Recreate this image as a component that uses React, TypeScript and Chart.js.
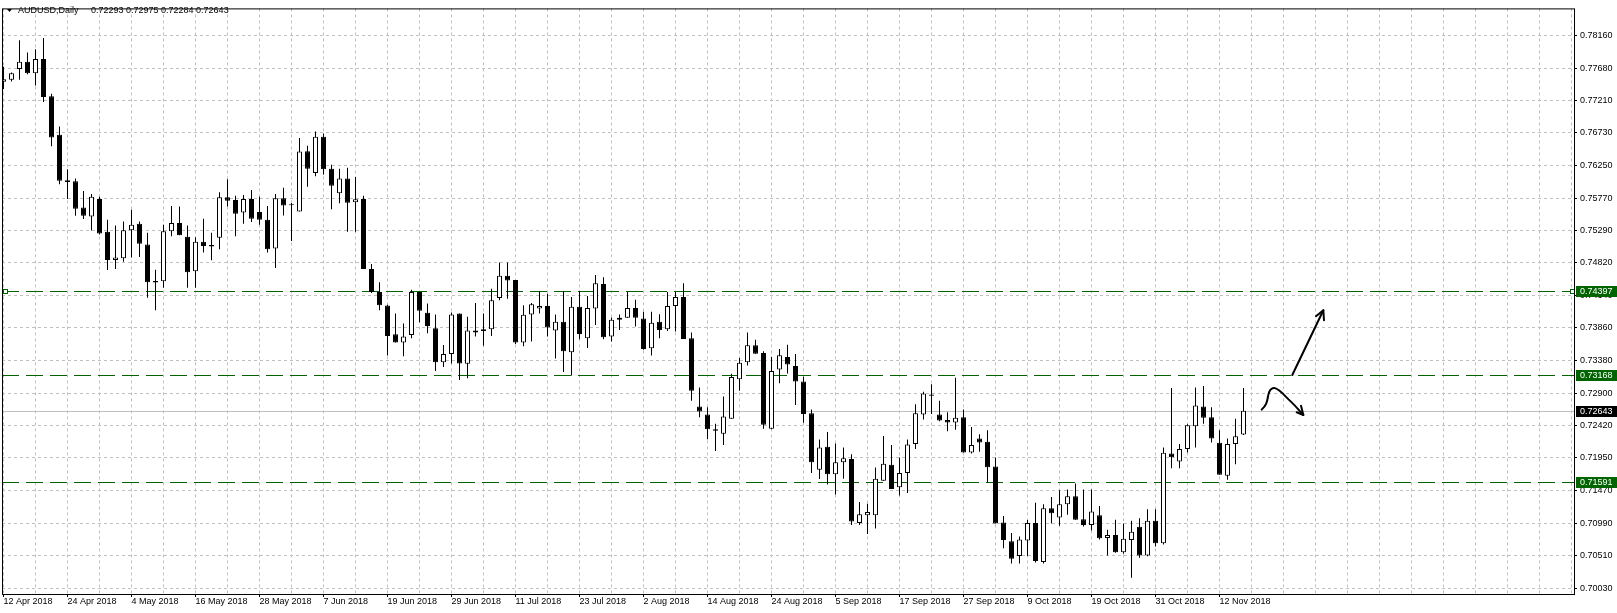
import React, { useEffect, useRef } from 'react';
import { Chart, registerables } from 'chart.js';

Chart.register(...registerables);

const SYMBOL = 'AUDUSD';
const TIMEFRAME = 'Daily';

// Daily candles, bar 0 = 12 Apr 2018 ... bar 155 = 15 Nov 2018
const OPEN = [
  0.77480, 0.77510, 0.77669, 0.77775, 0.77605, 0.77814, 0.77267, 0.76701, 0.76033, 0.76018,
  0.75631, 0.75500, 0.75757, 0.75273, 0.74861, 0.74886, 0.75297, 0.75394, 0.75089, 0.74552,
  0.74547, 0.75282, 0.75404, 0.75201, 0.74693, 0.75128, 0.75079, 0.75186, 0.75782, 0.75742,
  0.75558, 0.75757, 0.75564, 0.75452, 0.75027, 0.75767, 0.75670, 0.75573, 0.76458, 0.76139,
  0.76672, 0.76203, 0.75840, 0.76058, 0.75709, 0.75757, 0.74726, 0.74388, 0.74189, 0.73768,
  0.73647, 0.73758, 0.74388, 0.74083, 0.73855, 0.73357, 0.73477, 0.74073, 0.73332, 0.73821,
  0.73840, 0.73840, 0.74301, 0.74629, 0.74566, 0.73647, 0.74058, 0.74145, 0.74184, 0.73821,
  0.73952, 0.73502, 0.74170, 0.73710, 0.74145, 0.74508, 0.73734, 0.73981, 0.74010, 0.74155,
  0.74000, 0.73560, 0.73952, 0.73840, 0.74184, 0.74315, 0.73710, 0.72703, 0.72587, 0.72369,
  0.72305, 0.72523, 0.73104, 0.73357, 0.73604, 0.73492, 0.72378, 0.73249, 0.73434, 0.73299,
  0.73071, 0.72606, 0.71774, 0.72112, 0.71710, 0.71884, 0.71934, 0.70990, 0.71106, 0.71106,
  0.71614, 0.71847, 0.71517, 0.71725, 0.72152, 0.72587, 0.72882, 0.72587, 0.72505, 0.72471,
  0.72548, 0.72030, 0.72233, 0.72185, 0.71822, 0.70999, 0.70723, 0.70505, 0.70733, 0.70990,
  0.70418, 0.71208, 0.71071, 0.71266, 0.71386, 0.71048, 0.70961, 0.71106, 0.70772, 0.70816,
  0.70563, 0.70743, 0.70936, 0.70515, 0.71023, 0.70694, 0.72015, 0.71895, 0.72079, 0.72413,
  0.72703, 0.72548, 0.72170, 0.71687, 0.72152, 0.72293,
];
const HIGH = [
  0.77703, 0.77616, 0.78090, 0.77910, 0.77960, 0.78124, 0.77306, 0.76821, 0.76193, 0.76058,
  0.75873, 0.75830, 0.75790, 0.75452, 0.75365, 0.75427, 0.75597, 0.75427, 0.75259, 0.74716,
  0.75379, 0.75655, 0.75645, 0.75365, 0.75195, 0.75467, 0.75259, 0.75854, 0.76047, 0.75805,
  0.75815, 0.75888, 0.75790, 0.75655, 0.75830, 0.75921, 0.75699, 0.76653, 0.76541, 0.76749,
  0.76720, 0.76261, 0.76203, 0.76217, 0.76081, 0.75805, 0.74799, 0.74533, 0.74200, 0.74073,
  0.73927, 0.74421, 0.74388, 0.74218, 0.74058, 0.73608, 0.74087, 0.74073, 0.74025, 0.74228,
  0.74073, 0.74436, 0.74823, 0.74823, 0.74566, 0.74193, 0.74228, 0.74402, 0.74363, 0.74058,
  0.74402, 0.74315, 0.74402, 0.74330, 0.74639, 0.74606, 0.74015, 0.74058, 0.74388, 0.74276,
  0.74097, 0.74097, 0.74062, 0.74388, 0.74388, 0.74518, 0.73792, 0.72984, 0.72693, 0.72451,
  0.72853, 0.73187, 0.73419, 0.73792, 0.73685, 0.73516, 0.73434, 0.73550, 0.73612, 0.73477,
  0.73143, 0.72660, 0.72218, 0.72330, 0.72160, 0.72102, 0.72001, 0.71299, 0.71275, 0.71808,
  0.72272, 0.72137, 0.71953, 0.72218, 0.72737, 0.72921, 0.73031, 0.72790, 0.72621, 0.73129,
  0.72660, 0.72403, 0.72297, 0.72355, 0.71953, 0.71096, 0.70845, 0.70791, 0.71034, 0.71289,
  0.71266, 0.71372, 0.71474, 0.71484, 0.71571, 0.71484, 0.71484, 0.71241, 0.70893, 0.71038,
  0.70984, 0.71023, 0.71063, 0.71193, 0.71193, 0.72102, 0.72976, 0.72152, 0.72442, 0.72984,
  0.73008, 0.72693, 0.72355, 0.72233, 0.72523, 0.72975,
];
const LOW = [
  0.77373, 0.77485, 0.77510, 0.77591, 0.77427, 0.77184, 0.76531, 0.75975, 0.75757, 0.75510,
  0.75462, 0.75292, 0.75234, 0.74712, 0.74726, 0.74832, 0.74896, 0.74905, 0.74305, 0.74120,
  0.74450, 0.75209, 0.75224, 0.74450, 0.74450, 0.74969, 0.74857, 0.75016, 0.75645, 0.75209,
  0.75394, 0.75419, 0.75379, 0.74969, 0.74741, 0.75515, 0.75137, 0.75573, 0.75936, 0.76091,
  0.76116, 0.75607, 0.75695, 0.75273, 0.75273, 0.74726, 0.74373, 0.74120, 0.73453, 0.73647,
  0.73444, 0.73710, 0.73942, 0.73782, 0.73226, 0.73284, 0.73336, 0.73095, 0.73119, 0.73734,
  0.73598, 0.73743, 0.74266, 0.74290, 0.73623, 0.73589, 0.73662, 0.74073, 0.73734, 0.73409,
  0.73212, 0.73162, 0.73695, 0.73564, 0.73903, 0.73695, 0.73662, 0.73830, 0.74010, 0.73880,
  0.73540, 0.73453, 0.73710, 0.73816, 0.73807, 0.73699, 0.72790, 0.72548, 0.72224, 0.72050,
  0.72137, 0.72523, 0.72936, 0.73307, 0.73482, 0.72378, 0.72369, 0.73046, 0.73191, 0.72727,
  0.72465, 0.71725, 0.71638, 0.71556, 0.71411, 0.71643, 0.70961, 0.70961, 0.70830, 0.70912,
  0.71614, 0.71492, 0.71397, 0.71434, 0.72079, 0.72515, 0.72596, 0.72486, 0.72340, 0.72364,
  0.72030, 0.72015, 0.72040, 0.71590, 0.70984, 0.70621, 0.70395, 0.70395, 0.70505, 0.70409,
  0.70395, 0.70984, 0.70951, 0.71111, 0.71038, 0.70941, 0.70882, 0.70748, 0.70515, 0.70554,
  0.70540, 0.70186, 0.70482, 0.70501, 0.70646, 0.70675, 0.71797, 0.71797, 0.72030, 0.72102,
  0.72451, 0.72175, 0.71701, 0.71629, 0.71855, 0.72284,
];
const CLOSE = [
  0.77518, 0.77605, 0.77775, 0.77605, 0.77814, 0.77257, 0.76662, 0.76023, 0.76008, 0.75612,
  0.75510, 0.75790, 0.75249, 0.74861, 0.74896, 0.75297, 0.75379, 0.75099, 0.74533, 0.74527,
  0.75282, 0.75404, 0.75224, 0.74678, 0.75128, 0.75064, 0.75056, 0.75782, 0.75732, 0.75539,
  0.75757, 0.75467, 0.75452, 0.75016, 0.75767, 0.75660, 0.75665, 0.76454, 0.76203, 0.76672,
  0.76193, 0.75950, 0.76058, 0.75703, 0.75753, 0.74726, 0.74388, 0.74193, 0.73743, 0.73647,
  0.73734, 0.74388, 0.74112, 0.73888, 0.73357, 0.73477, 0.74058, 0.73336, 0.73821, 0.73792,
  0.73816, 0.74266, 0.74629, 0.74556, 0.73647, 0.74054, 0.74208, 0.74184, 0.73865, 0.73952,
  0.73516, 0.74170, 0.73772, 0.74155, 0.74518, 0.73724, 0.73981, 0.74010, 0.74155, 0.74010,
  0.73550, 0.73938, 0.73830, 0.74184, 0.74315, 0.73699, 0.72936, 0.72631, 0.72369, 0.72349,
  0.72558, 0.73139, 0.73347, 0.73604, 0.73482, 0.72436, 0.73226, 0.73458, 0.73322, 0.73071,
  0.72596, 0.71884, 0.72102, 0.71710, 0.71884, 0.71942, 0.71013, 0.71121, 0.71154, 0.71643,
  0.71861, 0.71492, 0.71725, 0.72146, 0.72606, 0.72896, 0.72863, 0.72500, 0.72471, 0.72538,
  0.72030, 0.72137, 0.72175, 0.71812, 0.70984, 0.70743, 0.70467, 0.70748, 0.70990, 0.70432,
  0.71208, 0.71135, 0.71266, 0.71386, 0.71038, 0.70961, 0.71159, 0.70766, 0.70816, 0.70563,
  0.70758, 0.70864, 0.70515, 0.71023, 0.70694, 0.72025, 0.71957, 0.72079, 0.72428, 0.72718,
  0.72538, 0.72233, 0.71701, 0.72152, 0.72268, 0.72643,
];

// Date labels, one every 8 bars starting at bar 0
const DATE_LABELS = [
  '12 Apr 2018', '24 Apr 2018', '4 May 2018', '16 May 2018', '28 May 2018', '7 Jun 2018',
  '19 Jun 2018', '29 Jun 2018', '11 Jul 2018', '23 Jul 2018', '2 Aug 2018', '14 Aug 2018',
  '24 Aug 2018', '5 Sep 2018', '17 Sep 2018', '27 Sep 2018', '9 Oct 2018', '19 Oct 2018',
  '31 Oct 2018', '12 Nov 2018',
];
const DATE_LABEL_EVERY = 8;
const GRID_EVERY = 4;

const PRICE_TICKS = [
  0.78160, 0.77680, 0.77210, 0.76730, 0.76250, 0.75770, 0.75290, 0.74820, 0.74340,
  0.73860, 0.73380, 0.72900, 0.72420, 0.71950, 0.71470, 0.70990, 0.70510, 0.70030,
];

const LEVELS = [0.74397, 0.73168, 0.71591];
const ANCHORED_LEVEL = 0.74397;
const ANCHOR_BARS = [0.19, 196];
const BID = 0.72643;

const X_MIN = -0.1875;
const X_MAX = 196.3125;
const Y_MIN = 0.699472;
const Y_MAX = 0.785594;

// Hand-drawn arrows, as [bar index, price]
const ARROW_UP = [[161.1, 0.73168], [164.98, 0.7412]];
const ARROW_UP_HEAD = [[164.06, 0.74033], [164.98, 0.7412], [165.06, 0.73974]];
const ARROW_CURVE = [
  [157.27, 0.72659], [157.69, 0.72707], [157.98, 0.72789], [158.1, 0.72885], [158.31, 0.72949],
  [158.73, 0.72983], [159.15, 0.72968], [159.78, 0.7291], [160.6, 0.72813], [161.44, 0.72717],
  [162.48, 0.7258],
];
const ARROW_CURVE_HEAD = [[161.65, 0.7262], [162.48, 0.7258], [162.19, 0.72717]];

const GREEN = '#006400';
const GRID = '#c0c0c0';
const FONT = "'Liberation Sans', Arial, sans-serif";

// horizontal lines (drawn under the candles, snapped to pixel rows)
const levelsPlugin = {
  id: 'mt4Levels',
  beforeDatasetsDraw(chart: any) {
    const { ctx, chartArea: ca, scales } = chart;
    const ys = scales.y;
    const xs = scales.x;
    ctx.save();
    ctx.beginPath();
    ctx.rect(ca.left, ca.top, ca.right - ca.left, ca.bottom - ca.top);
    ctx.clip();
    ctx.lineWidth = 1;
    // bid line
    const by = Math.round(ys.getPixelForValue(BID)) + 0.5;
    ctx.strokeStyle = GRID;
    ctx.setLineDash([]);
    ctx.beginPath();
    ctx.moveTo(ca.left, by);
    ctx.lineTo(ca.right, by);
    ctx.stroke();
    // levels
    LEVELS.forEach((lvl) => {
      const y = Math.round(ys.getPixelForValue(lvl)) + 0.5;
      ctx.strokeStyle = GREEN;
      ctx.setLineDash([17, 7]);
      ctx.beginPath();
      ctx.moveTo(ca.left, y);
      ctx.lineTo(ca.right, y);
      ctx.stroke();
      if (lvl === ANCHORED_LEVEL) {
        ctx.setLineDash([]);
        ANCHOR_BARS.forEach((b) => {
          const x = Math.round(xs.getPixelForValue(b)) + 0.5;
          ctx.fillStyle = '#fff';
          ctx.fillRect(x - 2, y - 2, 4, 4);
          ctx.strokeRect(x - 2, y - 2, 4, 4);
        });
      }
    });
    ctx.restore();
  },
};

const overlayPlugin = {
  id: 'mt4Overlay',
  afterDraw(chart: any) {
    const { ctx, chartArea: ca, scales } = chart;
    const xs = scales.x;
    const ys = scales.y;
    const W = chart.width;

    // frame
    ctx.save();
    ctx.strokeStyle = '#000';
    ctx.lineWidth = 1;
    ctx.strokeRect(ca.left + 0.5, ca.top + 0.5, ca.right - ca.left, ca.bottom - ca.top);
    ctx.restore();

    // price label boxes
    const boxes = [
      ...LEVELS.map((v) => ({ v, bg: GREEN })),
      { v: BID, bg: '#000' },
    ];
    ctx.save();
    ctx.font = `9px ${FONT}`;
    ctx.textBaseline = 'middle';
    ctx.textAlign = 'left';
    boxes.forEach(({ v, bg }) => {
      const cy = Math.round(ys.getPixelForValue(v));
      ctx.fillStyle = bg;
      ctx.fillRect(ca.right + 2, cy - 5, W - ca.right - 2, 11);
      ctx.fillStyle = '#fff';
      ctx.fillText(v.toFixed(5), ca.right + 6, cy + 0.5);
    });
    ctx.restore();

    // title
    const last = OPEN.length - 1;
    ctx.save();
    ctx.fillStyle = '#000';
    ctx.beginPath();
    ctx.moveTo(7, 9);
    ctx.lineTo(12, 9);
    ctx.lineTo(9.5, 12);
    ctx.closePath();
    ctx.fill();
    ctx.font = `9px ${FONT}`;
    ctx.textBaseline = 'middle';
    ctx.textAlign = 'left';
    ctx.fillText(`${SYMBOL},${TIMEFRAME}`, 18, 11);
    ctx.fillText(
      [OPEN[last], HIGH[last], LOW[last], CLOSE[last]].map((v) => v.toFixed(5)).join(' '),
      91,
      11
    );
    ctx.restore();

    // arrows
    const px = (p: number[]) => [xs.getPixelForValue(p[0]), ys.getPixelForValue(p[1])];
    ctx.save();
    ctx.strokeStyle = '#000';
    ctx.lineWidth = 2;
    ctx.lineCap = 'round';
    ctx.lineJoin = 'round';
    const poly = (pts: number[][]) => {
      ctx.beginPath();
      pts.map(px).forEach(([x, y], i) => (i ? ctx.lineTo(x, y) : ctx.moveTo(x, y)));
      ctx.stroke();
    };
    poly(ARROW_UP);
    poly(ARROW_UP_HEAD);
    const c = ARROW_CURVE.map(px);
    ctx.beginPath();
    ctx.moveTo(c[0][0], c[0][1]);
    for (let i = 1; i < c.length - 1; i++) {
      const mx = (c[i][0] + c[i + 1][0]) / 2;
      const my = (c[i][1] + c[i + 1][1]) / 2;
      ctx.quadraticCurveTo(c[i][0], c[i][1], mx, my);
    }
    ctx.lineTo(c[c.length - 1][0], c[c.length - 1][1]);
    ctx.stroke();
    poly(ARROW_CURVE_HEAD);
    ctx.restore();
  },
};

export default function App() {
  const ref = useRef<HTMLCanvasElement>(null);

  useEffect(() => {
    const idx = OPEN.map((_, i) => i);
    const gridValues: number[] = [];
    for (let v = 0; v <= X_MAX; v += GRID_EVERY) gridValues.push(v);

    const chart = new Chart(ref.current as HTMLCanvasElement, {
      type: 'bar',
      data: {
        datasets: [
          {
            type: 'bar',
            data: idx.map((i) => ({ x: i, y: [OPEN[i], CLOSE[i]] })),
            backgroundColor: idx.map((i) => (CLOSE[i] >= OPEN[i] ? '#fff' : '#000')),
            borderColor: '#000',
            borderWidth: 1,
            borderSkipped: false,
            barThickness: 5,
            grouped: false,
            minBarLength: 1,
            inflateAmount: 0,
            order: 0,
          } as any,
          {
            type: 'bar',
            data: idx.map((i) => ({ x: i, y: [LOW[i], HIGH[i]] })),
            backgroundColor: '#000',
            borderWidth: 0,
            barThickness: 1,
            grouped: false,
            inflateAmount: 0,
            order: 1,
          } as any,
        ],
      },
      options: {
        responsive: false,
        animation: false,
        devicePixelRatio: 1,
        layout: { padding: { left: 2, top: 1, right: 0, bottom: 0 } },
        plugins: { legend: { display: false }, tooltip: { enabled: false } },
        events: [],
        scales: {
          x: {
            type: 'linear',
            min: X_MIN,
            max: X_MAX,
            offset: false,
            afterBuildTicks: (s: any) => {
              s.ticks = gridValues.map((value) => ({ value }));
            },
            afterFit: (s: any) => {
              s.height = 19;
            },
            grid: {
              color: GRID,
              lineWidth: 1,
              offset: false,
              drawTicks: true,
              tickLength: 3,
              tickWidth: 1,
              tickColor: (c: any) =>
                c.tick && c.tick.value % DATE_LABEL_EVERY === 0 && c.tick.value / DATE_LABEL_EVERY < DATE_LABELS.length
                  ? '#000'
                  : 'rgba(0,0,0,0)',
            },
            border: { display: false, dash: [3, 3] },
            ticks: {
              autoSkip: false,
              maxRotation: 0,
              minRotation: 0,
              align: 'start',
              padding: 0,
              color: '#000',
              font: { family: FONT, size: 9, lineHeight: 1 },
              callback: (v: any) => {
                const n = Number(v);
                if (n % DATE_LABEL_EVERY !== 0) return '';
                return DATE_LABELS[n / DATE_LABEL_EVERY] ?? '';
              },
            },
          },
          y: {
            type: 'linear',
            position: 'right',
            min: Y_MIN,
            max: Y_MAX,
            afterBuildTicks: (s: any) => {
              s.ticks = PRICE_TICKS.map((value) => ({ value }));
            },
            afterFit: (s: any) => {
              s.width = 43;
            },
            grid: {
              color: GRID,
              lineWidth: 1,
              drawTicks: true,
              tickLength: 3,
              tickWidth: 1,
              tickColor: '#000',
            },
            border: { display: false, dash: [3, 3] },
            ticks: {
              padding: 3,
              color: '#000',
              font: { family: FONT, size: 9 },
              callback: (v: any) => Number(v).toFixed(5),
            },
          },
        },
      } as any,
      plugins: [levelsPlugin, overlayPlugin],
    });
    return () => chart.destroy();
  }, []);

  return (
    <div style={{ position: 'fixed', left: 0, top: 0, width: 1617, height: 613, background: '#fff' }}>
      <canvas ref={ref} width={1617} height={613} style={{ display: 'block', width: 1617, height: 613 }} />
    </div>
  );
}
